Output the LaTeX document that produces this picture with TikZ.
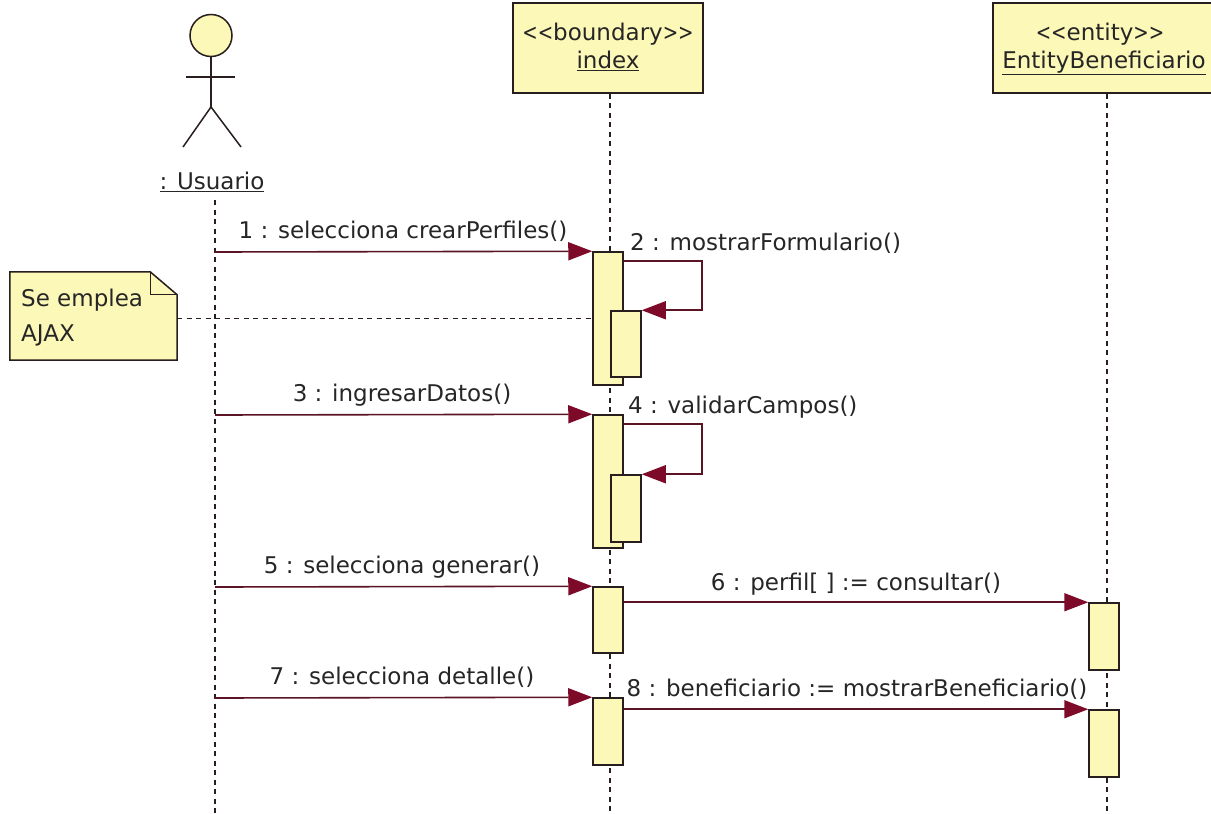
\documentclass[tikz,border=0pt]{standalone}
\usepackage{fontspec}
\setmainfont{DejaVu Sans}
\usetikzlibrary{arrows.meta,calc}
\definecolor{boxfill}{RGB}{252,248,184}
\definecolor{edge}{RGB}{40,30,30}
\definecolor{msgcol}{RGB}{90,20,35}
\definecolor{tipcol}{RGB}{125,10,40}
\newcommand{\lt}{\scalebox{0.8}[1]{<}}
\newcommand{\gt}{\scalebox{0.8}[1]{>}}
\begin{document}
\begin{tikzpicture}[x=1pt,y=-1pt,
  every node/.style={font=\fontsize{23}{27}\selectfont, text=black!85},
  objbox/.style={draw=edge, line width=1.6pt, fill=boxfill, minimum width=190pt, minimum height=90pt, align=center, inner sep=0pt},
  act/.style={draw=edge, line width=1.5pt, fill=boxfill, minimum width=30pt, inner sep=0pt},
  lifeline/.style={draw=edge, line width=1.8pt, dash pattern=on 5pt off 4.5pt},
  msg/.style={draw=msgcol, line width=1.6pt, -{Triangle[length=24pt,width=18pt,fill=tipcol,color=tipcol]}},
  lbl/.style={inner sep=0pt, anchor=base},
  notebox/.style={inner sep=0pt, minimum width=167pt, minimum height=88pt}
]
\useasboundingbox (0,0) rectangle (1211,814);
\fill[white] (0,0) rectangle (1211,814);

% actor
\draw[edge, line width=1.5pt, fill=boxfill] (211,35.5) circle (21pt);
\coordinate (neck) at (211,56.5);
\coordinate (hip) at (211,107);
\draw[edge, line width=1.5pt] (neck) -- (hip);
\draw[edge, line width=1.5pt] (186,77) -- (235,77);
\draw[edge, line width=1.5pt] (183,147) -- (hip) -- (241,147);
\node[lbl] (usr) at (212,189) {\underline{: Usuario}};
\coordinate (uTop) at (215,200);
\coordinate (uBot) at (215,814);

% objects
\node[objbox] (idx) at (608,48) {};
\node[lbl] (idxS) at (608,40) {\lt\lt boundary\gt\gt};
\node[lbl] (idxN) at (608,68) {\underline{index}};
\node[objbox, minimum width=222pt] (ent) at (1104,48) {};
\node[lbl] (entS) at (1100,40) {\lt\lt entity\gt\gt};
\node[lbl] (entN) at (1104,68) {\underline{EntityBeneficiario}};
\coordinate (iBot) at (610,814);
\coordinate (eBot) at (1107,814);

% lifelines
\draw[lifeline] (uTop) -- (uBot);
\draw[lifeline] (idx.south -| iBot) -- (iBot);
\draw[lifeline] (ent.south -| eBot) -- (eBot);

% activations on index
\node[act, minimum height=133pt] (a1) at (608,318.5) {};
\node[act, minimum height=66pt] (n1) at (626,344) {};
\node[act, minimum height=133pt] (a2) at (608,481.5) {};
\node[act, minimum height=67pt] (n2) at (626,508.5) {};
\node[act, minimum height=66pt] (a3) at (608,620) {};
\node[act, minimum height=67pt] (a4) at (608,731.5) {};
% activations on entity
\node[act, minimum height=67pt] (e1) at (1104,636.5) {};
\node[act, minimum height=67pt] (e2) at (1104,743.5) {};

% messages
\coordinate (m1) at (215,252);
\coordinate (m3) at (215,415);
\coordinate (m5) at (215,587);
\coordinate (m7) at (215,698);
\draw[msg] (m1) -- (a1.north west);
\node[lbl] (l1) at (403,238) {1 : selecciona crearPerfiles()};
\draw[msg] ([yshift=-10pt]a1.north east) -- ++(78,0) |- (n1.north east);
\node[lbl, anchor=base west] (l2) at (630,250) {2 : mostrarFormulario()};

\draw[msg] (m3) -- (a2.north west);
\node[lbl] (l3) at (402,401) {3 : ingresarDatos()};
\draw[msg] ([yshift=-10pt]a2.north east) -- ++(78,0) |- (n2.north east);
\node[lbl, anchor=base west] (l4) at (628,413) {4 : validarCampos()};

\draw[msg] (m5) -- (a3.north west);
\node[lbl] (l5) at (402,573) {5 : selecciona generar()};
\draw[msg] ([yshift=-16pt]a3.north east) -- (e1.north west);
\node[lbl] (l6) at (856,590) {6 : perfil[ ] := consultar()};

\draw[msg] (m7) -- (a4.north west);
\node[lbl] (l7) at (402,684) {7 : selecciona detalle()};
\draw[msg] ([yshift=-12pt]a4.north east) -- (e2.north west);
\node[lbl] (l8) at (857,696) {8 : beneficiario := mostrarBeneficiario()};

% note
\node[notebox] (note) at (93.5,316) {};
\draw[edge, line width=1.5pt, fill=boxfill]
  (note.north west) -- ([xshift=-27pt]note.north east) -- ([yshift=-23pt]note.north east)
  -- (note.south east) -- (note.south west) -- cycle;
\draw[edge, line width=1.2pt] ([xshift=-27pt]note.north east) -- ++(0,23) -- ([yshift=-23pt]note.north east);
\node[lbl, anchor=base west, align=left] (nt1) at (21,306) {Se emplea};
\node[lbl, anchor=base west, align=left] (nt2) at (21,341) {AJAX};
\draw[edge, line width=1.4pt, dash pattern=on 5pt off 4.5pt] (note.east |- a1.west) -- (a1.west);
\end{tikzpicture}
\end{document}
